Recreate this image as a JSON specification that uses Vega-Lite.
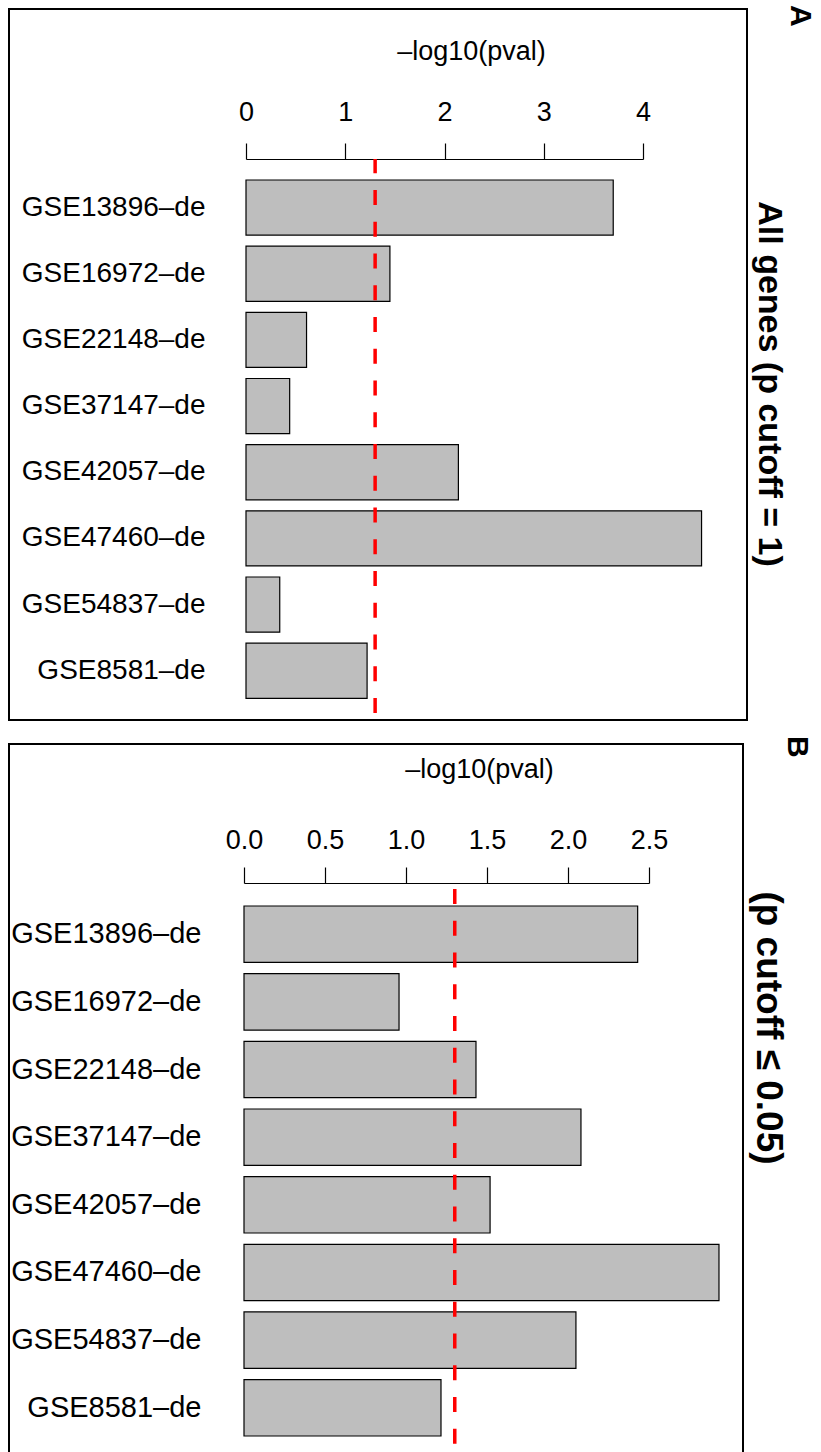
{
  "$schema": "https://vega.github.io/schema/vega-lite/v6.json",
  "padding": {"left": 8, "top": 4, "right": 0, "bottom": 0},
  "spacing": 14,
  "config": {
    "font": "Liberation Sans",
    "view": {"stroke": "black", "strokeWidth": 2},
    "axis": {"minExtent": 0, "grid": false}
  },
  "datasets": {
    "allGenes": [
      {"dataset": "GSE13896–de", "value": 3.70},
      {"dataset": "GSE16972–de", "value": 1.45},
      {"dataset": "GSE22148–de", "value": 0.61},
      {"dataset": "GSE37147–de", "value": 0.44},
      {"dataset": "GSE42057–de", "value": 2.14},
      {"dataset": "GSE47460–de", "value": 4.59},
      {"dataset": "GSE54837–de", "value": 0.34},
      {"dataset": "GSE8581–de", "value": 1.22}
    ],
    "cutoff05": [
      {"dataset": "GSE13896–de", "value": 2.43},
      {"dataset": "GSE16972–de", "value": 0.957},
      {"dataset": "GSE22148–de", "value": 1.432},
      {"dataset": "GSE37147–de", "value": 2.08},
      {"dataset": "GSE42057–de", "value": 1.519},
      {"dataset": "GSE47460–de", "value": 2.932},
      {"dataset": "GSE54837–de", "value": 2.049},
      {"dataset": "GSE8581–de", "value": 1.216}
    ],
    "line": [
      {"cutoff": 1.30103, "first": "GSE13896–de", "last": "GSE8581–de"}
    ]
  },
  "vconcat": [
    {
      "width": 738,
      "height": 711,
      "title": {"text": "A", "orient": "right", "anchor": "start", "fontSize": 30, "fontWeight": "bold", "color": "black", "offset": 4, "dx": -4, "dy": 4},
      "resolve": {"axis": {"y": "independent"}},
      "layer": [
        {
          "data": {"name": "allGenes"},
          "mark": {"type": "bar", "fill": "#BEBEBE", "stroke": "black", "strokeWidth": 1.2},
          "encoding": {
            "y": {
              "field": "dataset", "type": "nominal", "sort": null,
              "scale": {"range": [171, 689.3], "paddingInner": 0.167, "paddingOuter": 0},
              "axis": {"orient": "left", "offset": -196, "title": null, "ticks": false, "tickSize": 0, "domain": false, "labelPadding": 0, "labelFontSize": 28, "labelColor": "black", "labelLimit": 400}
            },
            "x": {
              "field": "value", "type": "quantitative",
              "scale": {"domain": [0, 4], "range": [237, 634], "nice": false},
              "axis": {"orient": "top", "offset": -150, "values": [0, 1, 2, 3, 4], "format": "d", "tickSize": 16, "tickColor": "black", "tickWidth": 1.2, "domainColor": "black", "domainWidth": 1.2, "labelFontSize": 27, "labelColor": "black", "labelPadding": 23, "labelBaseline": "alphabetic", "labelFlush": false, "labelOverlap": false, "title": "–log10(pval)", "titleFontSize": 27, "titleFontWeight": "normal", "titleColor": "black", "titleX": 462, "titleY": -100, "titleBaseline": "alphabetic", "titleAlign": "center"}
            }
          }
        },
        {
          "data": {"name": "line"},
          "mark": {"type": "rule", "color": "#FF0000", "strokeWidth": 3.5, "strokeDash": [15, 16.75], "strokeDashOffset": 0.75},
          "encoding": {
            "x": {"field": "cutoff", "type": "quantitative"},
            "y": {
              "field": "first", "type": "nominal", "sort": null, "bandPosition": -0.381,
              "axis": {"orient": "right", "labels": false, "ticks": false, "domain": false, "title": "All genes (p cutoff = 1)", "titleAngle": 90, "titleFontSize": 34, "titleFontWeight": "bold", "titleColor": "black", "titleX": 21, "titleY": 374.5, "titleAlign": "center", "titleBaseline": "middle"}
            },
            "y2": {"field": "last", "bandPosition": 1.267}
          }
        }
      ]
    },
    {
      "width": 734,
      "height": 715,
      "title": {"text": "B", "orient": "right", "anchor": "start", "fontSize": 30, "fontWeight": "bold", "color": "black", "offset": 4, "dx": -8, "dy": 8},
      "resolve": {"axis": {"y": "independent"}},
      "layer": [
        {
          "data": {"name": "cutoff05"},
          "mark": {"type": "bar", "fill": "#BEBEBE", "stroke": "black", "strokeWidth": 1.2},
          "encoding": {
            "y": {
              "field": "dataset", "type": "nominal", "sort": null,
              "scale": {"range": [162, 692], "paddingInner": 0.167, "paddingOuter": 0},
              "axis": {"orient": "left", "offset": -192, "title": null, "ticks": false, "tickSize": 0, "domain": false, "labelPadding": 0, "labelFontSize": 29, "labelColor": "black", "labelLimit": 400}
            },
            "x": {
              "field": "value", "type": "quantitative",
              "scale": {"domain": [0, 2.5], "range": [235, 640], "nice": false},
              "axis": {"orient": "top", "offset": -139, "values": [0, 0.5, 1, 1.5, 2, 2.5], "format": ".1f", "tickSize": 16, "tickColor": "black", "tickWidth": 1.2, "domainColor": "black", "domainWidth": 1.2, "labelFontSize": 27, "labelColor": "black", "labelPadding": 19, "labelBaseline": "alphabetic", "labelFlush": false, "labelOverlap": false, "title": "–log10(pval)", "titleFontSize": 27, "titleFontWeight": "normal", "titleColor": "black", "titleX": 470, "titleY": -106, "titleBaseline": "alphabetic", "titleAlign": "center"}
            }
          }
        },
        {
          "data": {"name": "line"},
          "mark": {"type": "rule", "color": "#FF0000", "strokeWidth": 3.5, "strokeDash": [15, 16.75], "strokeDashOffset": 25.75},
          "encoding": {
            "x": {"field": "cutoff", "type": "quantitative"},
            "y": {
              "field": "first", "type": "nominal", "sort": null, "bandPosition": -0.41,
              "axis": {"orient": "right", "labels": false, "ticks": false, "domain": false, "title": "(p cutoff ≤ 0.05)", "titleAngle": 90, "titleFontSize": 37, "titleFontWeight": "bold", "titleColor": "black", "titleX": 24, "titleY": 283.5, "titleAlign": "center", "titleBaseline": "middle"}
            },
            "y2": {"field": "last", "bandPosition": 1.41}
          }
        }
      ]
    }
  ]
}
